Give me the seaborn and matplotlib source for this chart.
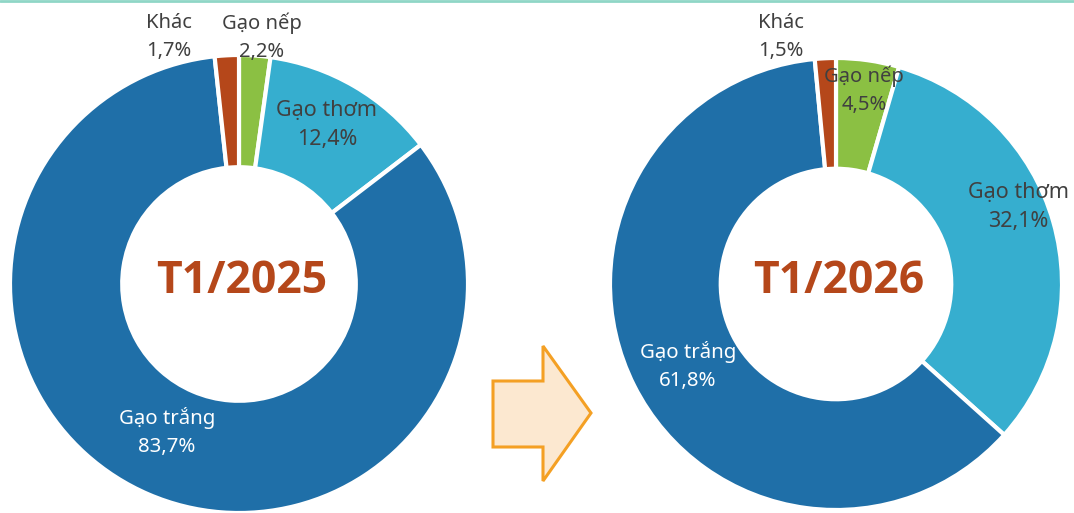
import matplotlib
matplotlib.use("Agg")
import matplotlib.pyplot as plt
import seaborn as sns
from matplotlib.patches import Polygon
from matplotlib.lines import Line2D

# data
categories = ["Gạo nếp", "Gạo thơm", "Gạo trắng", "Khác"]
share_2025 = [2.2, 12.4, 83.7, 1.7]
share_2026 = [4.5, 32.1, 61.8, 1.5]
titles = ["T1/2025", "T1/2026"]

colors = ["#8BC043", "#36AECF", "#1F6FA8", "#B5471A"]

sns.set_theme(style="white")
plt.rcParams["font.family"] = ["Noto Sans", "DejaVu Sans"]

W, H = 1074, 513
fig = plt.figure(figsize=(W / 100, H / 100), dpi=100)

# donut layout in pixels: centre x, centre y, radius
donuts = [
    (share_2025, titles[0], (239, 284, 229)),
    (share_2026, titles[1], (836, 284, 226)),
]

# label centre (pixel), font size
label_layout = [
    {"Gạo nếp": ((262, 37), 14.5), "Gạo thơm": ((327, 125), 15.5),
     "Gạo trắng": ((167, 432), 14.7), "Khác": ((169, 37), 14.5)},
    {"Gạo nếp": ((864, 90), 14.5), "Gạo thơm": ((1018, 207), 15.5),
     "Gạo trắng": ((688, 366), 14.7), "Khác": ((781, 37), 14.5)},
]


def fmt(v):
    return f"{v:.1f}".replace(".", ",") + "%"


for (vals, title, (cx, cy, r)), layout in zip(donuts, label_layout):
    ax = fig.add_axes([(cx - r) / W, (H - cy - r) / H, 2 * r / W, 2 * r / H])
    ax.pie(vals, colors=colors, startangle=90, counterclock=False,
           radius=1, wedgeprops=dict(width=0.49, edgecolor="white", linewidth=3))
    ax.set_xlim(-1, 1)
    ax.set_ylim(-1, 1)
    ax.set_aspect("equal")
    ax.axis("off")
    ax.text(0.01, 0.01, title, ha="center", va="center", fontsize=32,
            fontweight="bold", color="#B5471A", family=["Open Sans", "DejaVu Sans"])
    for cat, v in zip(categories, vals):
        (px, py), fs = layout[cat]
        tc = "white" if cat == "Gạo trắng" else "#404040"
        ax.text((px - cx) / r, (cy - py) / r, f"{cat}\n{fmt(v)}",
                ha="center", va="center", fontsize=fs, color=tc,
                linespacing=30.5 / (fs * 1.39 * 0.97))

# arrow between the donuts
arrow_pts = [(493, 381), (543, 381), (543, 346), (591, 413),
             (543, 481), (543, 447), (493, 447)]
fig.patches.append(Polygon([(x / W, 1 - y / H) for x, y in arrow_pts],
                           closed=True, transform=fig.transFigure,
                           facecolor="#FCE8D0", edgecolor="#F4A024",
                           linewidth=2.2, joinstyle="miter"))

# thin teal rule at the top
fig.lines.append(Line2D([0, 1], [1 - 1 / H, 1 - 1 / H], transform=fig.transFigure,
                        color="#8FD6C6", linewidth=2))

fig.savefig("out.png", dpi=100, facecolor="white")
